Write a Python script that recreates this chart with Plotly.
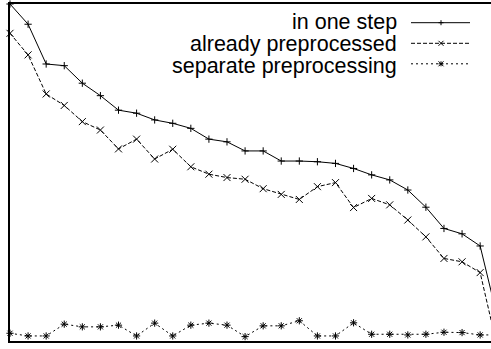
import plotly.graph_objects as go

# ---- data ----
idx = list(range(28))
in_one_step = [100.0, 94.0, 82.2, 81.7, 76.5, 72.8, 68.5, 67.6, 65.6, 64.6,
               63.1, 59.9, 59.1, 56.4, 56.4, 53.4, 53.4, 53.2, 52.7, 51.2,
               49.3, 47.8, 44.8, 39.7, 33.4, 31.8, 28.2, 6.0]
already_preprocessed = [91.3, 84.9, 73.3, 69.9, 65.1, 62.6, 57.0, 59.9, 54.0, 56.9,
                        51.7, 49.5, 48.5, 48.0, 45.2, 43.5, 42.0, 45.8, 47.0, 39.6,
                        42.3, 40.4, 35.9, 30.9, 24.5, 23.5, 20.3, -3.0]
separate_preprocessing = [2.3, 1.5, 1.5, 5.0, 4.2, 4.2, 4.7, 1.5, 5.3, 1.5,
                          4.7, 5.3, 4.7, 1.3, 4.5, 4.5, 6.0, 1.5, 1.5, 5.4,
                          2.0, 2.0, 1.8, 2.0, 2.6, 2.5, 1.8, 1.8]
names = ["in one step", "already preprocessed", "separate preprocessing"]

W, H = 491, 349
L, R, T, B = 10, 0, 4, 8
pw, ph = W - L - R, H - T - B

def px(x):
    return (x - L) / pw

def py(y):
    return (H - B - y) / ph

FONT = "Liberation Sans, Arial, Helvetica, sans-serif"
FSIZE = 21.5

fig = go.Figure()
styles = [
    dict(dash="solid", symbol="cross-thin", size=5.2),
    dict(dash="4px,2px", symbol="x-thin", size=7),
    dict(dash="2px,3px", symbol="asterisk", size=6),
]
for name, ys, st in zip(names, [in_one_step, already_preprocessed, separate_preprocessing], styles):
    fig.add_trace(go.Scatter(
        x=idx, y=ys, name=name, mode="lines+markers",
        line=dict(color="black", width=1, dash=st["dash"]),
        marker=dict(symbol=st["symbol"], size=st["size"], color="black",
                    line=dict(color="black", width=1)),
        cliponaxis=False, showlegend=False,
    ))

# manual legend (text left of sample, gnuplot style)
shapes = []
annotations = []
text_y = [21.8, 43.8, 65.8]
line_y = [22.7, 43.3, 63.8]
x0s, x1s, xm = 411, 470, 441
for i, (name, st) in enumerate(zip(names, styles)):
    annotations.append(dict(
        x=px(399), y=py(text_y[i]), xref="paper", yref="paper", text=name,
        showarrow=False, xanchor="right", yanchor="middle",
        font=dict(family=FONT, size=FSIZE, color="black")))
    yy = line_y[i]
    shapes.append(dict(type="line", xref="paper", yref="paper",
                       x0=px(x0s), x1=px(x1s), y0=py(yy), y1=py(yy),
                       line=dict(color="black", width=1, dash=st["dash"])))
    r = 2.5
    segs = []
    if st["symbol"] in ("cross-thin", "asterisk"):
        segs += [((xm - r, yy), (xm + r, yy)), ((xm, yy - r), (xm, yy + r))]
    if st["symbol"] in ("x-thin", "asterisk"):
        segs += [((xm - r, yy - r), (xm + r, yy + r)), ((xm - r, yy + r), (xm + r, yy - r))]
    for (a, b) in segs:
        shapes.append(dict(type="line", xref="paper", yref="paper",
                           x0=px(a[0]), y0=py(a[1]), x1=px(b[0]), y1=py(b[1]),
                           line=dict(color="black", width=1)))

fig.update_layout(
    width=W, height=H,
    margin=dict(l=L, r=R, t=T, b=B, pad=0),
    paper_bgcolor="white", plot_bgcolor="white",
    showlegend=False,
    shapes=shapes, annotations=annotations,
    font=dict(family=FONT, size=FSIZE, color="black"),
)
fig.update_xaxes(range=[0, 26.6], showline=True, mirror=True, linecolor="black",
                 linewidth=2, showgrid=False, zeroline=False, ticks="",
                 showticklabels=False, fixedrange=True)
fig.update_yaxes(range=[0, 100], showline=True, mirror=False, linecolor="black",
                 linewidth=2, showgrid=False, zeroline=False, ticks="",
                 showticklabels=False, fixedrange=True)

fig.write_html("out.html", config={"displayModeBar": False},
               post_script="document.body.style.margin='0px';document.body.style.overflow='hidden';")
